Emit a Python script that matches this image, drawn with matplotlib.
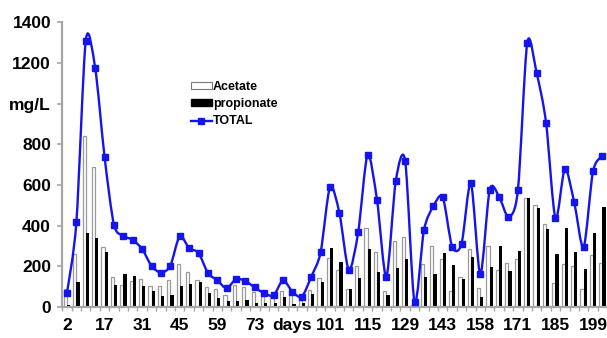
import numpy as np
import matplotlib
matplotlib.use("Agg")
import matplotlib.pyplot as plt
from matplotlib.path import Path
from matplotlib.patches import PathPatch, Patch
from matplotlib.lines import Line2D

# Sampling points (every 4th one carries a day label)
day_labels = ["2", "17", "31", "45", "59", "73", "days", "101", "115", "129",
              "143", "158", "171", "185", "199"]

acetate = [90, 262, 840, 688, 296, 146, 108, 128, 140, 105,
           104, 131, 213, 170, 133, 96, 87, 60, 110, 97,
           75, 54, 59, 79, 59, 51, 84, 141, 243, 183,
           88, 201, 387, 272, 80, 326, 342, 10, 210, 301,
           235, 80, 146, 285, 92, 301, 182, 215, 236, 535,
           501, 408, 120, 210, 202, 89, 256, 215]

propionate = [12, 123, 362, 337, 272, 108, 160, 151, 105, 78,
              56, 58, 101, 112, 125, 67, 46, 31, 30, 34,
              21, 18, 18, 51, 13, 18, 64, 125, 289, 223,
              88, 145, 285, 172, 58, 194, 235, 6, 146, 162,
              264, 207, 136, 244, 51, 195, 301, 179, 276, 535,
              488, 382, 261, 387, 272, 187, 362, 490]

total = [70, 418, 1310, 1175, 738, 405, 350, 330, 285, 202,
         169, 203, 348, 289, 266, 168, 131, 92, 138, 127,
         96, 67, 58, 131, 75, 51, 149, 269, 590, 462,
         183, 368, 748, 528, 149, 619, 718, 23, 377, 495,
         540, 297, 310, 609, 161, 576, 543, 444, 573, 1300,
         1150, 907, 436, 679, 515, 294, 667, 743]

y_labels = ["0", "200", "400", "600", "800", "mg/L", "1200", "1400"]

plt.rcParams["font.family"] = ["Liberation Sans", "DejaVu Sans"]
plt.rcParams["font.weight"] = "bold"

blue = "#1414ee"
grey = "#a6a6a6"

fig = plt.figure(figsize=(6.07, 3.38), dpi=100)
ax = fig.add_axes([62.3 / 607, 31 / 338, 544.8 / 607, 284.7 / 338])

x = np.arange(len(total))
w = 0.34
ax.bar(x - w / 2, acetate, width=w, facecolor="white", edgecolor="#9a9a9a",
       linewidth=0.9, zorder=2)
ax.bar(x + w / 2, propionate, width=w, color="black", zorder=2)

# smooth curve through the totals (cubic Bezier segments)
k = 0.14
pts = np.column_stack([x, total]).astype(float)
ext = np.vstack([pts[0], pts, pts[-1]])
verts = [pts[0]]
codes = [Path.MOVETO]
for i in range(len(pts) - 1):
    p0, p1, p2, p3 = ext[i], ext[i + 1], ext[i + 2], ext[i + 3]
    verts += [p1 + (p2 - p0) * k, p2 - (p3 - p1) * k, p2]
    codes += [Path.CURVE4] * 3
ax.add_patch(PathPatch(Path(verts, codes), facecolor="none", edgecolor=blue,
                       linewidth=1.7, zorder=3))
ax.plot(x, total, linestyle="none", marker="s", markersize=4.6,
        color=blue, zorder=4)

ax.set_xlim(-0.5, len(total) - 0.5)
ax.set_ylim(0, 1400)

ax.set_xticks(np.arange(0, len(total), 4))
ax.set_xticklabels(day_labels)
ax.set_xticks(np.arange(-0.5, len(total), 1), minor=True)
ax.tick_params(axis="x", which="major", length=0, pad=8, labelsize=12.5)
ax.tick_params(axis="x", which="minor", length=3, width=1, color=grey,
               direction="out")

ax.set_yticks(np.arange(0, 1401, 200))
ax.set_yticklabels(y_labels)
ax.tick_params(axis="y", length=3.6, width=1.2, color=grey, pad=4.5,
               labelsize=12.5)

for side in ["top", "right"]:
    ax.spines[side].set_visible(False)
for side in ["left", "bottom"]:
    ax.spines[side].set_color(grey)
    ax.spines[side].set_linewidth(1.6)

handles = [
    Patch(facecolor="white", edgecolor="#7a7a7a", linewidth=0.8),
    Patch(facecolor="black", edgecolor="black"),
    Line2D([], [], color=blue, linewidth=1.7, marker="s", markersize=4.6),
]
ax.legend(handles, ["Acetate", "propionate", "TOTAL"],
          loc="upper left", bbox_to_anchor=(191 / 607, 1 - 81 / 338),
          bbox_transform=fig.transFigure, frameon=False, borderpad=0,
          borderaxespad=0, handlelength=1.65, handleheight=0.5,
          handletextpad=0.1, labelspacing=0.42,
          prop={"size": 9, "weight": "bold"})

fig.savefig("out.png", dpi=100)
